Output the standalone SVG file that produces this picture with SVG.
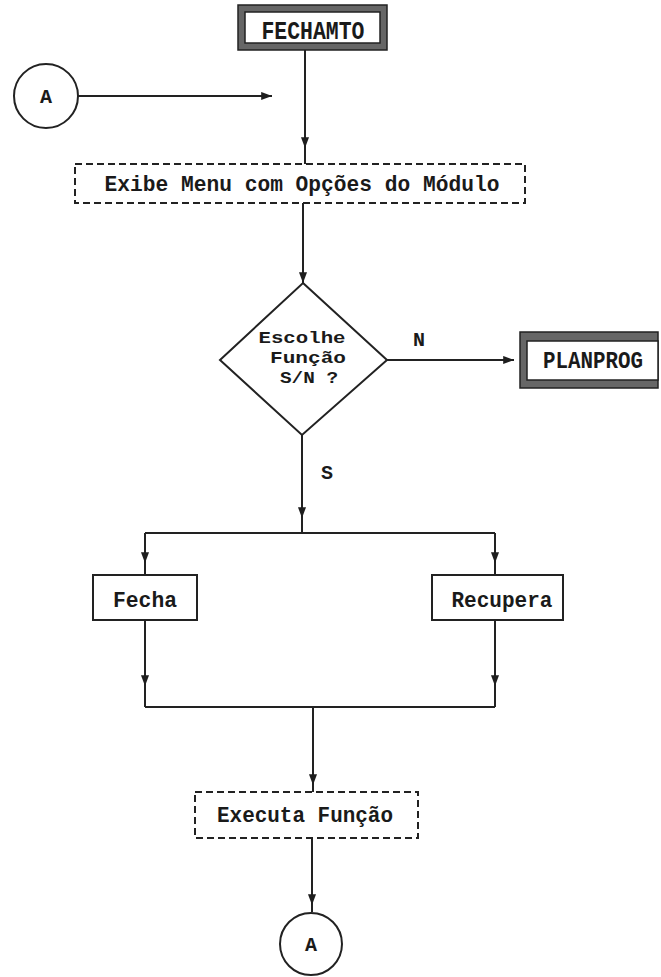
<svg xmlns="http://www.w3.org/2000/svg" width="661" height="977" viewBox="0 0 661 977">
<defs>
<marker id="arr" viewBox="0 0 12 10" refX="12" refY="5" markerWidth="12" markerHeight="9" markerUnits="userSpaceOnUse" orient="auto">
<path d="M0,0.5 L12,5 L0,9.5 Z" fill="#1e1e1e"/>
</marker>
</defs>
<style>
.ln{fill:none;stroke:#222;stroke-width:2}
.box{fill:#fff;stroke:#222;stroke-width:2}
.dash{fill:#fff;stroke:#222;stroke-width:2;stroke-dasharray:7 4}
.term{fill:#666;stroke:#222;stroke-width:1.5}
.termin{fill:#fff;stroke:#222;stroke-width:1.5}
.t{font-family:"Liberation Mono","DejaVu Sans Mono",monospace;font-weight:bold;fill:#1a1a1a;text-anchor:middle}
.s22{font-size:22px}
.s20{font-size:20px}
.s17{font-size:17px}
.s24{font-size:24px}
.s26{font-size:26px}
.mid{marker-mid:url(#arr)}
.end{marker-end:url(#arr)}
</style>
<rect width="661" height="977" fill="#fff"/>
<g id="connectors">
<path class="ln end" d="M78,96 L272,96"/>
<path class="ln mid" d="M305,50 L305,148 L305,164"/>
<path class="ln end" d="M303,203 L303,283"/>
<path class="ln end" d="M387,360 L514,360"/>
<path class="ln mid" d="M302,435 L302,518 L302,533"/>
<path class="ln" d="M145,533 L495,533"/>
<path class="ln mid" d="M145,533 L145,563 L145,575"/>
<path class="ln mid" d="M495,533 L495,563 L495,575"/>
<path class="ln mid" d="M145,620 L145,686 L145,707"/>
<path class="ln mid" d="M495,620 L495,686 L495,707"/>
<path class="ln" d="M145,707 L495,707"/>
<path class="ln mid" d="M313,707 L313,785 L313,792"/>
<path class="ln mid" d="M312,838 L312,905 L312,912"/>
<text class="t s20" x="419" y="346">N</text>
<text class="t s20" x="327" y="479">S</text>
</g>
<g id="fechamto">
<rect class="term" x="238" y="5" width="149" height="45"/>
<rect class="termin" x="245" y="12" width="135" height="31"/>
<text class="t s26" x="313" y="39" textLength="103" lengthAdjust="spacingAndGlyphs">FECHAMTO</text>
</g>
<g id="connA-top">
<circle class="box" cx="46" cy="96" r="32"/>
<text class="t s20" x="46" y="103">A</text>
</g>
<g id="exibe-menu">
<rect class="dash" x="75" y="164" width="450" height="39"/>
<text class="t s22" x="302" y="191" textLength="395" lengthAdjust="spacingAndGlyphs">Exibe Menu com Opções do Módulo</text>
</g>
<g id="escolhe">
<path class="box" d="M303,283 L387,360 L302,435 L220,360 Z"/>
<text class="t s17" x="302" y="343" textLength="87" lengthAdjust="spacingAndGlyphs">Escolhe</text>
<text class="t s17" x="308" y="363" textLength="76" lengthAdjust="spacingAndGlyphs">Função</text>
<text class="t s17" x="309" y="383" textLength="58" lengthAdjust="spacingAndGlyphs">S/N ?</text>
</g>
<g id="planprog">
<rect class="term" x="520" y="332" width="138" height="56"/>
<rect class="termin" x="527" y="341" width="131" height="39"/>
<text class="t s24" x="593" y="368" textLength="100" lengthAdjust="spacingAndGlyphs">PLANPROG</text>
</g>
<g id="fecha">
<rect class="box" x="93" y="575" width="104" height="45"/>
<text class="t s22" x="145" y="607" textLength="64" lengthAdjust="spacingAndGlyphs">Fecha</text>
</g>
<g id="recupera">
<rect class="box" x="432" y="575" width="131" height="45"/>
<text class="t s22" x="502" y="607" textLength="101" lengthAdjust="spacingAndGlyphs">Recupera</text>
</g>
<g id="executa">
<rect class="dash" x="195" y="792" width="223" height="46"/>
<text class="t s22" x="305" y="822" textLength="176" lengthAdjust="spacingAndGlyphs">Executa Função</text>
</g>
<g id="connA-bottom">
<circle class="box" cx="311" cy="944" r="31"/>
<text class="t s20" x="311" y="951">A</text>
</g>
</svg>
